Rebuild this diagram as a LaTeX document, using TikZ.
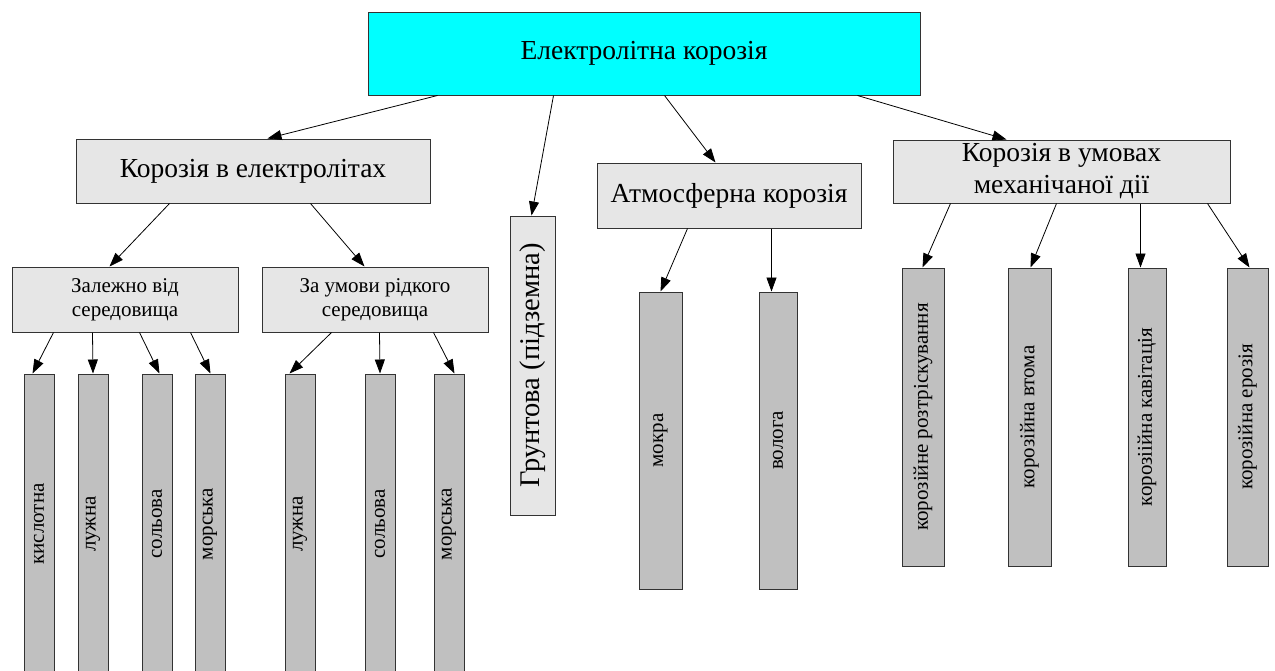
\documentclass[tikz,border=0pt]{standalone}
\usepackage{fontspec}
\usepackage{graphicx}
\setmainfont{Liberation Serif}
\usetikzlibrary{arrows.meta}
\definecolor{cyanfill}{HTML}{00FFFF}
\definecolor{lightbox}{HTML}{E6E6E6}
\definecolor{barfill}{HTML}{C0C0C0}
\definecolor{edge}{HTML}{333333}
\begin{document}
\begin{tikzpicture}[x=1pt,y=-1pt,
  basebox/.style={draw=edge,line width=1pt,inner sep=0pt,align=center},
  topbox/.style={basebox,fill=cyanfill,font=\fontsize{27.5}{32}\selectfont},
  headbox/.style={basebox,fill=lightbox,font=\fontsize{27.5}{32}\selectfont},
  subbox/.style={basebox,fill=lightbox,font=\fontsize{21}{24}\selectfont},
  barbox/.style={basebox,fill=barfill,font=\fontsize{21}{24}\selectfont},
  conn/.style={draw=black,line width=0.8pt,-{Triangle[length=14pt,width=10pt]}}]
\useasboundingbox (0,0) rectangle (1275,670);
% main level
\node[topbox,minimum width=552pt,minimum height=83pt] (top) at (644,53.5) {Електролітна корозія};
\node[headbox,minimum width=354pt,minimum height=64pt] (elec) at (253,171) {Корозія в електролітах};
\node[headbox,minimum width=45pt,minimum height=299pt,font=\fontsize{28.5}{32}\selectfont] (grunt) at (532.5,365.5) {\rotatebox{90}{Грунтова (підземна)}};
\node[headbox,minimum width=264pt,minimum height=65pt] (atm) at (729,195.5) {Атмосферна корозія};
\node[headbox,minimum width=337pt,minimum height=63pt] (mech) at (1061.5,171.5) {Корозія в умовах\\механічаної дії};
% second level
\node[subbox,minimum width=226pt,minimum height=65pt] (zal) at (125,299.5) {Залежно від\\середовища};
\node[subbox,minimum width=226pt,minimum height=65pt] (umov) at (375,299.5) {За умови рідкого\\середовища};
% bars (left)
\node[barbox,minimum width=30pt,minimum height=300pt] (k1) at (39,524) {\rotatebox{90}{кислотна}};
\node[barbox,minimum width=30pt,minimum height=300pt] (l1) at (93,524) {\rotatebox{90}{лужна}};
\node[barbox,minimum width=30pt,minimum height=300pt] (s1) at (157,524) {\rotatebox{90}{сольова}};
\node[barbox,minimum width=30pt,minimum height=300pt] (m1) at (210,524) {\rotatebox{90}{морська}};
\node[barbox,minimum width=30pt,minimum height=300pt] (l2) at (300,524) {\rotatebox{90}{лужна}};
\node[barbox,minimum width=30pt,minimum height=300pt] (s2) at (380,524) {\rotatebox{90}{сольова}};
\node[barbox,minimum width=30pt,minimum height=300pt] (m2) at (449,524) {\rotatebox{90}{морська}};
% atmospheric bars
\node[barbox,minimum width=43pt,minimum height=297pt] (mokra) at (660.5,440.5) {\rotatebox{90}{мокра}};
\node[barbox,minimum width=38pt,minimum height=297pt] (voloha) at (778,440.5) {\rotatebox{90}{волога}};
% mechanical bars
\node[barbox,minimum width=42pt,minimum height=298pt] (b1) at (923,417) {\rotatebox{90}{корозійне розтріскування}};
\node[barbox,minimum width=43pt,minimum height=298pt] (b2) at (1029.5,417) {\rotatebox{90}{корозійна втома}};
\node[barbox,minimum width=38pt,minimum height=298pt] (b3) at (1147,417) {\rotatebox{90}{корозіійна кавітація}};
\node[barbox,minimum width=41pt,minimum height=298pt] (b4) at (1247.5,417) {\rotatebox{90}{корозійна ерозія}};
% connectors from top
\draw[conn] ([xshift=70pt]top.south west) -- ([xshift=192pt]elec.north west);
\draw[conn] ([xshift=186pt]top.south west) -- ([xshift=22pt]grunt.north west);
\draw[conn] ([xshift=297pt]top.south west) -- ([xshift=119pt]atm.north west);
\draw[conn] ([xshift=490pt]top.south west) -- ([xshift=114pt]mech.north west);
% electrolytes
\draw[conn] ([xshift=94pt]elec.south west) -- ([xshift=98pt]zal.north west);
\draw[conn] ([xshift=235pt]elec.south west) -- ([xshift=103pt]umov.north west);
% zal
\draw[conn] ([xshift=42pt]zal.south west) -- ([xshift=9pt]k1.north west);
\draw[conn] ([xshift=81pt]zal.south west) -- (l1.north);
\draw[conn] ([xshift=128pt]zal.south west) -- ([xshift=18pt]s1.north west);
\draw[conn] ([xshift=179pt]zal.south west) -- ([xshift=16pt]m1.north west);
% umov
\draw[conn] ([xshift=70pt]umov.south west) -- ([xshift=5pt]l2.north west);
\draw[conn] ([xshift=118pt]umov.south west) -- (s2.north);
\draw[conn] ([xshift=172pt]umov.south west) -- ([xshift=21pt]m2.north west);
% atm
\draw[conn] ([xshift=91pt]atm.south west) -- (mokra.north);
\draw[conn] ([xshift=175pt]atm.south west) -- ([xshift=13pt]voloha.north west);
% mech
\draw[conn] ([xshift=58pt]mech.south west) -- ([xshift=21pt]b1.north west);
\draw[conn] ([xshift=164pt]mech.south west) -- ([xshift=23pt]b2.north west);
\draw[conn] ([xshift=248pt]mech.south west) -- ([xshift=13pt]b3.north west);
\draw[conn] ([xshift=315pt]mech.south west) -- ([xshift=23pt]b4.north west);
\end{tikzpicture}
\end{document}
